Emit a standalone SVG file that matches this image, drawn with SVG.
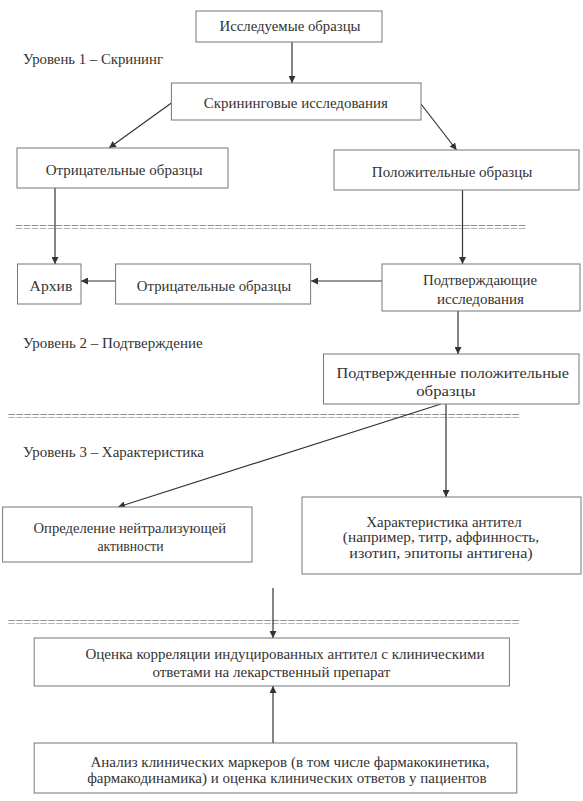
<svg xmlns="http://www.w3.org/2000/svg" width="583" height="801" viewBox="0 0 583 801">
<defs>
<marker id="ah" viewBox="0 0 10 10" refX="10" refY="5" markerWidth="7" markerHeight="7" markerUnits="userSpaceOnUse" orient="auto">
<path d="M0,0 L10,5 L0,10 z" fill="#333"/>
</marker>
<style>
.box{fill:#fff;stroke:#777;stroke-width:1}
.t{fill:#333;text-anchor:middle}
.lbl{fill:#333}
.eq{fill:#777}
.c{stroke:#333;stroke-width:1.2;fill:none;marker-end:url(#ah)}
</style>
</defs>
<rect width="583" height="801" fill="#fff"/>
<g font-family="'Liberation Serif', serif" font-size="15">
<g id="labels">
<text class="lbl" x="23" y="64" textLength="140" lengthAdjust="spacingAndGlyphs">Уровень 1 – Скрининг</text>
<text class="lbl" x="23" y="347.5" textLength="179.6" lengthAdjust="spacingAndGlyphs">Уровень 2 – Подтверждение</text>
<text class="lbl" x="23" y="456.5" textLength="181" lengthAdjust="spacingAndGlyphs">Уровень 3 – Характеристика</text>
</g>
<g id="separators">
<text class="eq" x="15" y="232" font-size="14" textLength="511" lengthAdjust="spacingAndGlyphs">================================================================</text>
<text class="eq" x="7.4" y="420.5" font-size="14" textLength="512" lengthAdjust="spacingAndGlyphs">================================================================</text>
<text class="eq" x="7.4" y="627" font-size="14" textLength="512" lengthAdjust="spacingAndGlyphs">================================================================</text>
</g>
<g id="connectors">
<line class="c" x1="292" y1="42" x2="292" y2="83"/>
<line class="c" x1="171.4" y1="103" x2="109" y2="148"/>
<line class="c" x1="421" y1="104" x2="456.6" y2="150"/>
<line class="c" x1="55" y1="188" x2="55" y2="264"/>
<line class="c" x1="462.5" y1="190" x2="462.5" y2="264"/>
<line class="c" x1="382" y1="281" x2="311" y2="281"/>
<line class="c" x1="115.6" y1="281" x2="81" y2="281"/>
<line class="c" x1="458" y1="311" x2="458" y2="354"/>
<line class="c" x1="441" y1="404" x2="118" y2="507"/>
<line class="c" x1="446" y1="404" x2="446" y2="497"/>
<line class="c" x1="273" y1="588" x2="273" y2="638"/>
<line class="c" x1="273" y1="743" x2="273" y2="686"/>
</g>
<g id="n1"><rect class="box" x="196" y="11" width="186" height="31"/><text class="t" x="290" y="30.5" textLength="141" lengthAdjust="spacingAndGlyphs">Исследуемые образцы</text></g>
<g id="n2"><rect class="box" x="171.4" y="83" width="249.6" height="37"/><text class="t" x="295.8" y="108" textLength="184" lengthAdjust="spacingAndGlyphs">Скрининговые исследования</text></g>
<g id="n3"><rect class="box" x="17" y="148" width="211" height="40"/><text class="t" x="124.2" y="175" textLength="157" lengthAdjust="spacingAndGlyphs">Отрицательные образцы</text></g>
<g id="n4"><rect class="box" x="334" y="150" width="245" height="40"/><text class="t" x="452.1" y="177" textLength="160.6" lengthAdjust="spacingAndGlyphs">Положительные образцы</text></g>
<g id="n5"><rect class="box" x="17.5" y="264" width="63.5" height="40"/><text class="t" x="51" y="290.5" textLength="42.8" lengthAdjust="spacingAndGlyphs">Архив</text></g>
<g id="n6"><rect class="box" x="115.6" y="264" width="195" height="40"/><text class="t" x="214" y="290.5" textLength="154.3" lengthAdjust="spacingAndGlyphs">Отрицательные образцы</text></g>
<g id="n7"><rect class="box" x="382" y="264" width="198" height="47"/><text class="t" x="480" y="284.5" textLength="114" lengthAdjust="spacingAndGlyphs">Подтверждающие</text><text class="t" x="480.5" y="303.5" textLength="87" lengthAdjust="spacingAndGlyphs">исследования</text></g>
<g id="n8"><rect class="box" x="323.5" y="354" width="255.5" height="50"/><text class="t" x="452.7" y="377.5" textLength="232.4" lengthAdjust="spacingAndGlyphs">Подтвержденные положительные</text><text class="t" x="446" y="395.5" textLength="59.5" lengthAdjust="spacingAndGlyphs">образцы</text></g>
<g id="n9"><rect class="box" x="2.6" y="507" width="249.4" height="55"/><text class="t" x="129.8" y="532.5" textLength="192.6" lengthAdjust="spacingAndGlyphs">Определение нейтрализующей</text><text class="t" x="130.5" y="550.5" textLength="66.2" lengthAdjust="spacingAndGlyphs">активности</text></g>
<g id="n10"><rect class="box" x="302" y="497" width="279" height="77"/><text class="t" x="444" y="526.5" textLength="155.4" lengthAdjust="spacingAndGlyphs">Характеристика антител</text><text class="t" x="441" y="542" textLength="196.3" lengthAdjust="spacingAndGlyphs">(например, титр, аффинность,</text><text class="t" x="441" y="557.5" textLength="183.3" lengthAdjust="spacingAndGlyphs">изотип, эпитопы антигена)</text></g>
<g id="n11"><rect class="box" x="34.2" y="638" width="475.2" height="48"/><text class="t" x="285" y="658.5">Оценка корреляции индуцированных антител с клиническими</text><text class="t" x="271.4" y="676.5">ответами на лекарственный препарат</text></g>
<g id="n12"><rect class="box" x="34.2" y="743" width="482.6" height="50"/><text class="t" x="290" y="766.5">Анализ клинических маркеров (в том числе фармакокинетика,</text><text class="t" x="286.9" y="782.5">фармакодинамика) и оценка клинических ответов у пациентов</text></g>
</g>
</svg>
